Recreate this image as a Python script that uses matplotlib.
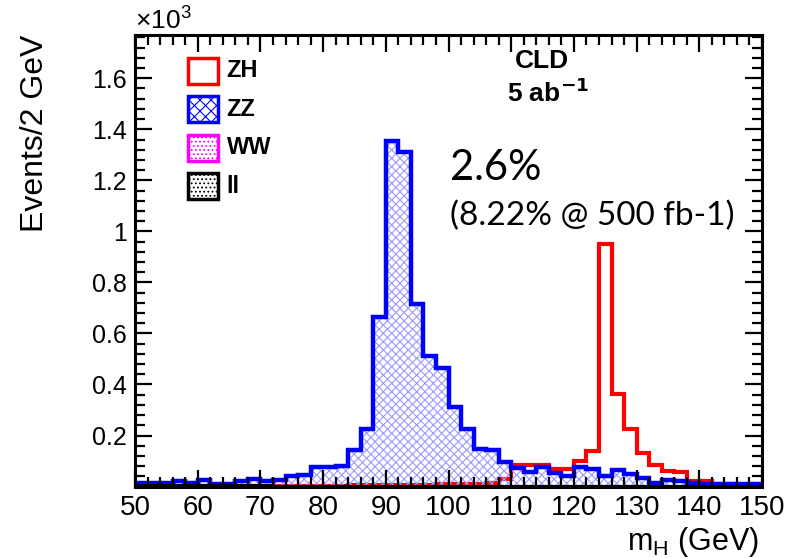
import numpy as np
import matplotlib.pyplot as plt
from matplotlib.ticker import MultipleLocator
from matplotlib.patches import Rectangle

# bin edges: 50 -> 150 GeV, 2 GeV per bin (values in units of 10^3)
edges = np.arange(50, 152, 2)

zz = [0.015, 0.015, 0.015, 0.023, 0.015, 0.027, 0.012, 0.012, 0.023, 0.030,
      0.022, 0.027, 0.040, 0.047, 0.076, 0.076, 0.082, 0.145, 0.224, 0.663,
      1.355, 1.310, 0.717, 0.511, 0.464, 0.313, 0.224, 0.147, 0.145, 0.095,
      0.073, 0.056, 0.077, 0.054, 0.040, 0.077, 0.069, 0.040, 0.064, 0.050,
      0.034, 0.015, 0.025, 0.023, 0.015, 0.012, 0.012, 0.010, 0.010, 0.010]

zh = [0.002, 0.002, 0.002, 0.002, 0.002, 0.002, 0.002, 0.002, 0.002, 0.002,
      0.002, 0.002, 0.003, 0.003, 0.003, 0.004, 0.004, 0.005, 0.005, 0.006,
      0.006, 0.007, 0.008, 0.008, 0.009, 0.010, 0.010, 0.012, 0.015, 0.030,
      0.083, 0.083, 0.086, 0.067, 0.067, 0.100, 0.140, 0.950, 0.364, 0.224,
      0.132, 0.086, 0.060, 0.056, 0.023, 0.023, 0.012, 0.010, 0.008, 0.006]

ww = [0.0] * 50

ll = [0.004, 0.004, 0.004, 0.004, 0.004, 0.004, 0.004, 0.004, 0.004, 0.004,
      0.004] + [0.0] * 39

legend_names = ['ZH', 'ZZ', 'WW', 'll']

plt.rcParams['font.family'] = ['Liberation Sans', 'DejaVu Sans']
plt.rcParams['hatch.linewidth'] = 0.8

fig = plt.figure(figsize=(7.9, 5.58), dpi=100)
ax = fig.add_axes([0.171, 0.128, 0.7936, 0.8095])

# ZH first, so the ZZ outline covers it where ZH is tiny
ax.stairs(zh, edges, baseline=0, color='#ff0000', linewidth=3.0)
# ZZ: light blue cross hatch + thick blue outline
ax.stairs(zz, edges, fill=True, facecolor='none', edgecolor='#9a9aff',
          hatch='xxxx', linewidth=0)
ax.stairs(zz, edges, baseline=0, color='#0000ff', linewidth=3.2)
# ll and WW
ax.stairs(ll, edges, baseline=0, color='black', linewidth=3.0)
ax.stairs(ww, edges, baseline=0, color='#ff00ff', linewidth=0)

ax.set_xlim(50, 150)
ax.set_ylim(0, 1.77)

ax.xaxis.set_major_locator(MultipleLocator(10))
ax.xaxis.set_minor_locator(MultipleLocator(2))
ax.yaxis.set_major_locator(MultipleLocator(0.2))
ax.yaxis.set_minor_locator(MultipleLocator(0.04))
ax.tick_params(which='both', direction='in', top=True, right=True, width=1.6)
ax.tick_params(which='major', length=12, labelsize=20, pad=6)
ax.tick_params(which='minor', length=7)
ax.set_yticks([0.2, 0.4, 0.6, 0.8, 1.0, 1.2, 1.4, 1.6])
ax.set_yticklabels(['0.2', '0.4', '0.6', '0.8', '1', '1.2', '1.4', '1.6'])
ax.tick_params(axis='y', labelsize=18, pad=6)
for s in ax.spines.values():
    s.set_linewidth(2.2)

ax.set_ylabel('Events/2 GeV', fontsize=23)
ax.yaxis.set_label_coords(-0.135, 0.783)
ax.set_xlabel('m$_\\mathregular{H}$ (GeV)', fontsize=22)
ax.xaxis.set_label_coords(0.995, -0.086)
ax.xaxis.label.set_horizontalalignment('right')
ax.xaxis.label.set_verticalalignment('top')

fig.text(0.171, 0.965, '×10$^\\mathregular{3}$', fontsize=19, va='center')

# legend drawn as ROOT-style boxes
leg_styles = [dict(facecolor='white', edgecolor='#ff0000', hatch=None),
              dict(facecolor='white', edgecolor='#0000ff', hatch='xxx'),
              dict(facecolor='white', edgecolor='#ff00ff', hatch='....'),
              dict(facecolor='white', edgecolor='black', hatch='....')]
for i, (name, st) in enumerate(zip(legend_names, leg_styles)):
    y0 = 1 - (84 - 35 + i * 38.5) / 452
    h = 26 / 452
    rect = Rectangle((0.084, y0), 0.049, h, transform=ax.transAxes,
                     linewidth=2.5, **st)
    ax.add_patch(rect)
    ax.text(0.146, y0 + h / 2, name, transform=ax.transAxes, fontsize=17,
            fontweight='bold', va='center')

ax.text(0.649, 0.942, 'CLD', transform=ax.transAxes, fontsize=19,
        fontweight='bold', ha='center', va='center')
ax.text(0.593, 0.872, '5 ab$^\\mathbf{-1}$', transform=ax.transAxes,
        fontsize=19, fontweight='bold', va='center')

fig.text(450 / 790, 1 - 180 / 558, '2.6%', fontsize=30, family='Lato',
         va='baseline')
fig.text(450 / 790, 1 - 225 / 558, '(8.22% @ 500 fb-1)', fontsize=24,
         family='Lato', va='baseline')

fig.savefig('out.png', dpi=100)
